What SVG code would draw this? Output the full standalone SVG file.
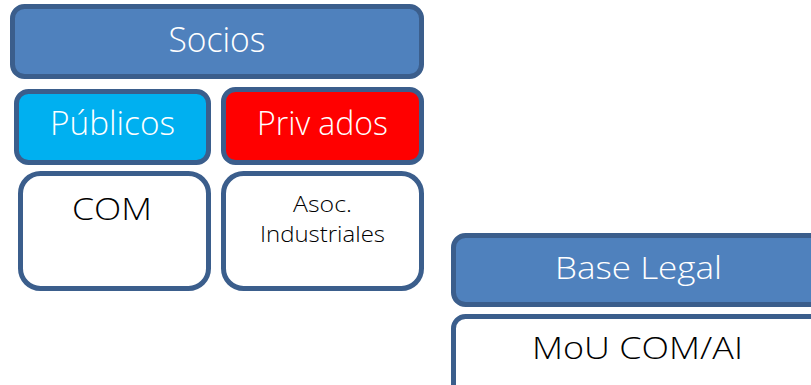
<svg xmlns="http://www.w3.org/2000/svg" width="811" height="385" viewBox="0 0 811 385">
<style>
.box{stroke:#3B5E8C;stroke-width:5}
.hdr{fill:#4F81BD}
.t{font-family:"Open Sans","DejaVu Sans",sans-serif;font-weight:300;text-anchor:middle}
.w{fill:#FFFFFF}
.k{fill:#000000}
</style>
<rect width="811" height="385" fill="#FFFFFF"/>
<g id="socios">
<rect class="box hdr" x="12.5" y="6.5" width="409" height="70" rx="12"/>
<text class="t w" x="217" y="52" font-size="34" textLength="97" lengthAdjust="spacingAndGlyphs">Socios</text>
</g>
<g id="publicos">
<rect class="box" fill="#00B0F0" x="16.5" y="91.5" width="192" height="71" rx="12"/>
<text class="t w" x="112.5" y="135" font-size="33" textLength="125" lengthAdjust="spacingAndGlyphs">Públicos</text>
</g>
<g id="privados">
<rect class="box" fill="#FF0000" x="223.5" y="89.5" width="198" height="73" rx="12"/>
<text class="t w" x="322.5" y="135" font-size="33" textLength="131" lengthAdjust="spacingAndGlyphs">Priv ados</text>
</g>
<g id="com">
<rect class="box" fill="#FFFFFF" x="20.5" y="173.5" width="188" height="115" rx="20"/>
<text class="t k" x="112" y="220" font-size="32" textLength="80" lengthAdjust="spacingAndGlyphs">COM</text>
</g>
<g id="asoc">
<rect class="box" fill="#FFFFFF" x="223.5" y="173.5" width="198" height="115" rx="20"/>
<text class="t k" x="322.5" y="212" font-size="22" textLength="59" lengthAdjust="spacingAndGlyphs">Asoc.</text>
<text class="t k" x="322.5" y="242" font-size="22" textLength="125" lengthAdjust="spacingAndGlyphs">Industriales</text>
</g>
<g id="base-legal">
<rect class="box hdr" x="453.5" y="235.5" width="380" height="69" rx="12"/>
<text class="t w" x="638.5" y="279" font-size="32" textLength="167" lengthAdjust="spacingAndGlyphs">Base Legal</text>
</g>
<g id="mou">
<rect class="box" fill="#FFFFFF" x="453.5" y="316.5" width="380" height="100" rx="12"/>
<text class="t k" x="637.5" y="359" font-size="32" textLength="211" lengthAdjust="spacingAndGlyphs">MoU COM/AI</text>
</g>
<g id="connectors"></g>
</svg>
